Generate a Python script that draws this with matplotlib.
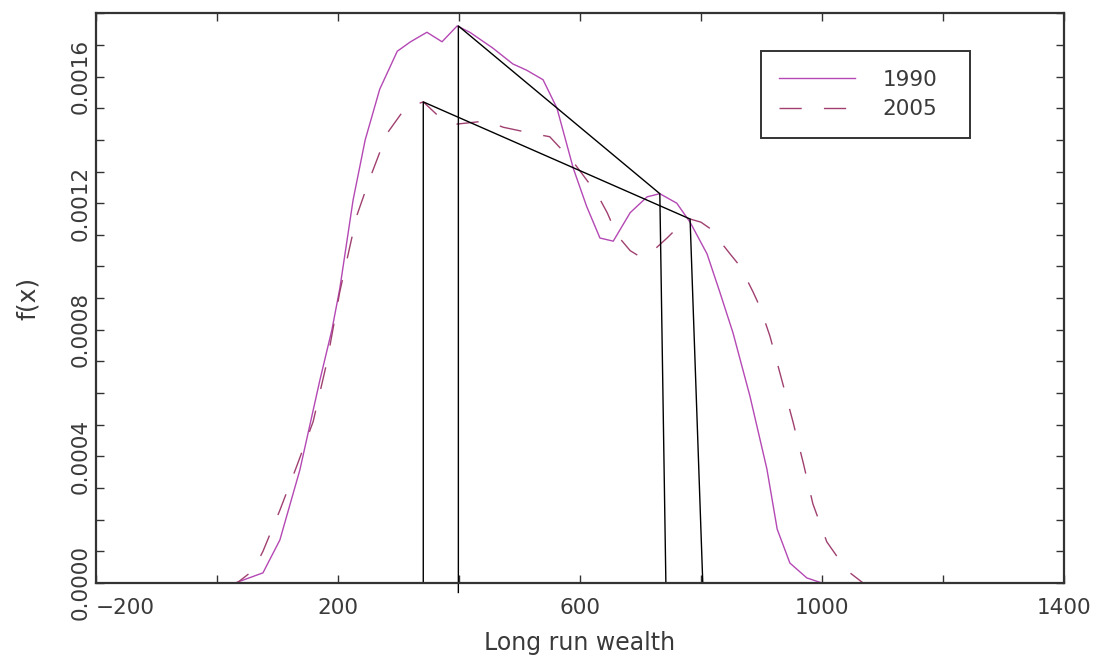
import matplotlib
matplotlib.use("Agg")
import matplotlib.pyplot as plt
from matplotlib.ticker import MultipleLocator, FixedLocator

# Kernel density estimates of long run wealth
wealth_1990 = [-200, 30, 76, 104, 137, 170, 190, 203, 225, 245, 269, 298, 320, 347,
               372, 397, 418, 456, 489, 512, 539, 562, 589, 611, 633, 655, 683, 711,
               732, 760, 782, 810, 831, 853, 881, 909, 926, 947, 975, 1000, 1245]
density_1990 = [0.0, 0.0, 0.000032, 0.000136, 0.000357, 0.00064, 0.0008, 0.00093,
                0.00121, 0.0014, 0.00156, 0.00168, 0.00171, 0.00174, 0.00171, 0.00176,
                0.00174, 0.00169, 0.00164, 0.00162, 0.00159, 0.0015, 0.00131, 0.00119,
                0.00109, 0.00108, 0.00117, 0.00122, 0.00123, 0.0012, 0.00114, 0.00104,
                0.00092, 0.00079, 0.00059, 0.00036, 0.00017, 0.000063, 0.000016, 0.0,
                0.0]

wealth_2005 = [-200, 33, 60, 76, 104, 132, 159, 182, 203, 231, 253, 281, 311, 341,
               369, 397, 446, 473, 522, 550, 589, 628, 645, 661, 683, 700, 721, 744,
               765, 782, 800, 815, 848, 865, 886, 898, 914, 931, 952, 969, 985, 1008,
               1041, 1068, 1245]
density_2005 = [0.0, 0.0, 0.00004, 0.0001, 0.00023, 0.00037, 0.00051, 0.0007, 0.00092,
                0.00116, 0.00128, 0.00142, 0.0015, 0.00152, 0.00147, 0.00145, 0.00146,
                0.00144, 0.00142, 0.00141, 0.00133, 0.00123, 0.00117, 0.0011, 0.00105,
                0.00103, 0.00105, 0.00109, 0.00113, 0.00115, 0.00114, 0.00112, 0.00104,
                0.001, 0.00092, 0.00087, 0.00078, 0.00066, 0.00051, 0.00038, 0.00025,
                0.00013, 0.00004, 0.0, 0.0]

# Outline joining the two modes of each density
modes_x_1990 = [399, 399, 732, 742]
modes_y_1990 = [-0.00003, 0.00176, 0.00123, 0.0]
modes_x_2005 = [341, 341, 782, 803]
modes_y_2005 = [0.0, 0.00152, 0.00115, 0.0]

x_ticks = [-200, 200, 600, 1000, 1400]
y_ticks = [0.0, 0.0004, 0.0008, 0.0012, 0.0016]
y_tick_labels = ["0.0000", "0.0004", "0.0008", "0.0012", "0.0016"]

plt.rcParams["font.family"] = ["DejaVu Sans"]
text_color = "#3a3a3a"

fig = plt.figure(figsize=(10.98, 6.64), dpi=100)
ax = fig.add_axes([0.0874, 0.122, 0.8816, 0.858])

ax.plot(wealth_1990, density_1990, color="#b448b4", lw=1.0, label="1990")
ax.plot(wealth_2005, density_2005, color="#a04070", lw=1.0,
        dashes=(16, 16), label="2005")
ax.plot(modes_x_1990, modes_y_1990, color="black", lw=1.0, clip_on=False)
ax.plot(modes_x_2005, modes_y_2005, color="black", lw=1.0)

ax.set_xlim(-200, 1400)
ax.set_ylim(0, 0.0018)

ax.xaxis.set_major_locator(FixedLocator(x_ticks))
ax.xaxis.set_minor_locator(MultipleLocator(200))
ax.yaxis.set_major_locator(FixedLocator(y_ticks))
ax.yaxis.set_minor_locator(MultipleLocator(0.0001))
xlabels = ax.set_xticklabels([str(v).replace("-", "\u2212") for v in x_ticks])
xlabels[0].set_horizontalalignment("left")
ax.set_yticklabels(y_tick_labels, rotation=90, va="center")

ax.tick_params(which="both", direction="in", top=True, right=True,
               length=6, width=1.0, color="#333333", labelsize=15.5,
               labelcolor=text_color)
ax.tick_params(axis="x", pad=11)
ax.tick_params(axis="y", pad=4)

for sp in ax.spines.values():
    sp.set_linewidth(1.6)
    sp.set_color("#333333")

ax.set_xlabel("Long run wealth", fontsize=17, color=text_color, labelpad=9)
ax.set_ylabel("f(x)", fontsize=18, color=text_color, labelpad=22)

leg = ax.legend(loc="upper left", bbox_to_anchor=(0.687, 0.779, 0.216, 0.154),
                mode="expand", fontsize=15.5,
                handlelength=3.5, handletextpad=1.3, labelspacing=0.45,
                borderpad=0.85, borderaxespad=0.0, fancybox=False,
                framealpha=1.0, edgecolor="#333333")
leg.get_frame().set_linewidth(1.4)
for t in leg.get_texts():
    t.set_color(text_color)

fig.savefig("out.png", dpi=100)
